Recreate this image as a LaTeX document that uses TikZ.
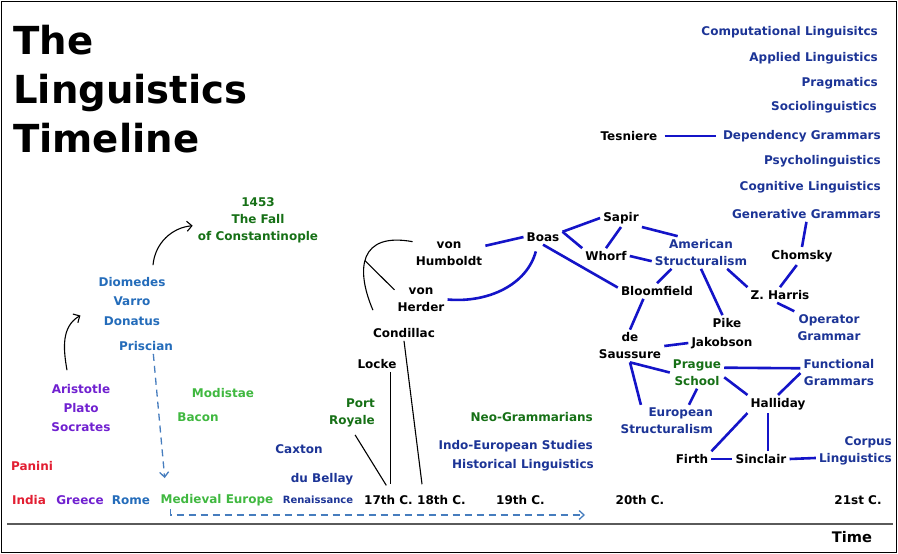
\documentclass[tikz,border=0pt]{standalone}
\usepackage{fontspec}
\setmainfont{DejaVu Sans}
\usetikzlibrary{arrows.meta}
\definecolor{lgNavy}{RGB}{28,52,150}
\definecolor{lgBlue}{RGB}{36,108,186}
\definecolor{lgDkGreen}{RGB}{22,112,22}
\definecolor{lgGreen}{RGB}{64,184,64}
\definecolor{lgPurple}{RGB}{112,32,208}
\definecolor{lgRed}{RGB}{226,30,50}
\definecolor{lgLink}{RGB}{20,20,200}
\definecolor{lgDash}{RGB}{70,125,190}
\definecolor{lgAxis}{RGB}{90,90,90}

\begin{document}
\begin{tikzpicture}[x=1pt, y=1pt,
  every node/.style={font=\fontsize{12}{17}\selectfont\bfseries, inner sep=3pt, align=center},
  navylbl/.style={text=lgNavy},
  bluelbl/.style={text=lgBlue},
  dkgreenlbl/.style={text=lgDkGreen},
  greenlbl/.style={text=lgGreen},
  purplelbl/.style={text=lgPurple},
  redlbl/.style={text=lgRed},
  link/.style={draw=lgLink, line width=2.6pt},
  stem/.style={draw=black, line width=1.1pt},
  hop/.style={stem, -{Straight Barb[length=5pt, width=10pt]}},
  lead/.style={draw=lgDash, line width=1.3pt, dash pattern=on 7pt off 5pt,
               -{Straight Barb[length=5pt, width=9pt]}},
]
\useasboundingbox (0,0) rectangle (898,-554);
\draw[line width=1.5pt] (1.5,-1.5) rectangle (896.5,-552.5);

%% ── Title ────────────────────────────────────────────────────────────────────
\node[anchor=north west, align=left, inner sep=0pt,
      font=\fontsize{38.6}{49}\selectfont\bfseries] (title) at (13,-25)
  {The\\Linguistics\\Timeline};

%% ── Time axis ────────────────────────────────────────────────────────────────
\node[redlbl] (india) at (29,-500) {India};
\node[purplelbl] (greece) at (80,-500) {Greece};
\node[bluelbl] (rome) at (131,-500) {Rome};
\node[greenlbl] (medieval) at (217,-500) {Medieval Europe};
\node[navylbl, font=\fontsize{10}{12}\selectfont\bfseries] (renais) at (318,-500) {Renaissance};
\node (c17) at (388.5,-500) {17th C.};
\node (c18) at (441.5,-500) {18th C.};
\node (c19) at (520.5,-500) {19th C.};
\node (c20) at (640,-500) {20th C.};
\node (c21) at (858,-500) {21st C.};
\draw[line width=2pt, lgAxis] (7,-524) -- (893,-524);
\node[font=\fontsize{14.6}{17}\selectfont\bfseries] (time) at (852,-537) {Time};

%% ── Antiquity and Middle Ages ────────────────────────────────────────────────
\node[redlbl] (panini) at (32,-466) {Panini};
\node[purplelbl, font=\fontsize{12}{19}\selectfont\bfseries] (greek) at (81,-408)
  {Aristotle\\Plato\\Socrates};
\node[bluelbl, font=\fontsize{12}{19.5}\selectfont\bfseries] (roman) at (132,-301.5)
  {Diomedes\\Varro\\Donatus};
\node[bluelbl] (priscian) at (146,-346) {Priscian};
\node[dkgreenlbl] (fall) at (258,-220) {1453\\The Fall\\of Constantinople};
\node[greenlbl] (modistae) at (223,-393) {Modistae};
\node[greenlbl] (bacon) at (198,-417) {Bacon};

\draw[hop] ([shift={(-14pt,11pt)}]greek.north) to[out=100, in=210]
  ([shift={(-15pt,-14pt)}]roman.west);
\draw[hop, shorten >=2pt] ([shift={(21pt,9pt)}]roman.north) to[out=85, in=185] (fall.185);

%% the long dashed lead from Priscian to the modern period
\coordinate (modern) at (585,-515);
\draw[lead, shorten >=13pt] (priscian.313) -- (medieval.170);
\draw[lead] (medieval.191) |- (modern);

%% ── Renaissance to 18th century ──────────────────────────────────────────────
\node[navylbl] (caxton) at (299,-449) {Caxton};
\node[navylbl] (bellay) at (322,-479) {du Bellay};
\node[dkgreenlbl, anchor=east, align=right] (portroyal) at (378,-412.5) {Port\\Royale};
\node (locke) at (377,-364) {Locke};
\node (condillac) at (404,-333) {Condillac};
\node (herder) at (421,-299.5) {von\\Herder};
\node (humboldt) at (449,-253.5) {von\\Humboldt};
\coordinate (c17top) at ([xshift=2pt]c17.north);

\draw[stem, shorten <=6pt, shorten >=8pt] (portroyal.south) -- (c17top);
\draw[stem, shorten >=8pt] (locke.south -| c17top) -- (c17top);
\draw[stem, shorten >=8pt] (condillac.south) -- (c18.157);
\draw[stem] ([shift={(3pt,15pt)}]condillac.north west)
  .. controls (355,-268) and (360,-232) .. (humboldt.162) coordinate[pos=0.45] (fork);
\draw[stem] (fork) -- (herder.160);

%% ── 19th century ─────────────────────────────────────────────────────────────
\node[dkgreenlbl, anchor=east] (neogram) at (596,-417) {Neo-Grammarians};
\node[navylbl, anchor=east] (indoeur) at (596,-446) {Indo-European Studies};
\node[navylbl, anchor=east] (histling) at (597,-465) {Historical Linguistics};

%% ── 20th century ─────────────────────────────────────────────────────────────
\node (boas) at (543,-237) {Boas};
\node (sapir) at (621,-218) {Sapir};
\node (whorf) at (606,-256) {Whorf};
\node[navylbl] (amstr) at (701,-252.5) {American\\Structuralism};
\node (bloom) at (657,-291) {Bloomfield};
\node (chomsky) at (802,-256) {Chomsky};
\node (zharris) at (780,-295) {Z. Harris};
\node[navylbl] (opgram) at (829,-327.5) {Operator\\Grammar};
\node (pike) at (727,-323) {Pike};
\node (jakob) at (722,-343) {Jakobson};
\node (saussure) at (630,-346) {de\\Saussure};
\node[dkgreenlbl] (prague) at (697,-372.5) {Prague\\School};
\node[navylbl] (funcgram) at (839,-373) {Functional\\Grammars};
\node (halliday) at (778,-404) {Halliday};
\node[navylbl, anchor=east, align=right] (eurstr) at (716,-421) {European\\Structuralism};
\node (firth) at (692,-459) {Firth};
\node (sinclair) at (761,-459) {Sinclair};
\node[navylbl, anchor=east, align=right] (corpus) at (895,-451) {Corpus\\Linguistics};
\node (tesniere) at (629,-136) {Tesniere};

%% ── Recent fields (right column) ─────────────────────────────────────────────
\node[navylbl, anchor=east] (complx) at (881,-32) {Computational Linguisitcs};
\node[navylbl, anchor=east] (applx) at (881,-58) {Applied Linguistics};
\node[navylbl, anchor=east] (pragm) at (881,-83) {Pragmatics};
\node[navylbl, anchor=east] (socio) at (880,-107) {Sociolinguistics};
\node[navylbl, anchor=east] (depgram) at (884,-136) {Dependency Grammars};
\node[navylbl, anchor=east] (psych) at (884,-161) {Psycholinguistics};
\node[navylbl, anchor=east] (cogn) at (884,-187) {Cognitive Linguistics};
\node[navylbl, anchor=east] (gengram) at (884,-214) {Generative Grammars};

%% ── Links ────────────────────────────────────────────────────────────────────
\draw[link, shorten <=4pt, shorten >=4pt] (tesniere.east) -- (depgram.west);
\draw[link] (humboldt.12) -- (boas.west);
\draw[link, shorten <=7pt] (boas.235) to[out=-105, in=-5] (herder.east);
\draw[link] (boas.15) -- (sapir.west);
\draw[link] (boas.15) -- (whorf.north west);
\draw[link] (boas.south) -- (bloom.175);
\draw[link] (sapir.south) -- (whorf.north);
\draw[link] (sapir.south east) -- (amstr.145);
\draw[link] (whorf.east) -- (amstr.190);
\draw[link] (amstr.209) -- (bloom.north);
\draw[link] (amstr.south) -- (pike.120);
\draw[link] (amstr.328) -- (zharris.north west);
\draw[link] (gengram.south) -- (chomsky.north);
\draw[link] (chomsky.240) -- (zharris.north);
\draw[link] (zharris.250) -- (opgram.north west);
\draw[link] (bloom.210) -- (saussure.north);
\draw[link] (saussure.east) -- (jakob.west);
\draw[link] (saussure.south) -- (prague.west);
\draw[link] (saussure.south) -- (eurstr.148);
\draw[link] (prague.south) -- (eurstr.36);
\draw[link] (prague.10) -- (funcgram.173);
\draw[link] (prague.350) -- (halliday.north west);
\draw[link] (funcgram.west) -- (halliday.north);
\draw[link] (halliday.south west) -- (firth.north east);
\draw[link] ([xshift=7pt]sinclair.north) -- ([xshift=7pt]sinclair.north |- halliday.south);
\draw[link] (firth.east) -- (sinclair.west);
\draw[link] (sinclair.east) -- (corpus.190);

\end{tikzpicture}
\end{document}
